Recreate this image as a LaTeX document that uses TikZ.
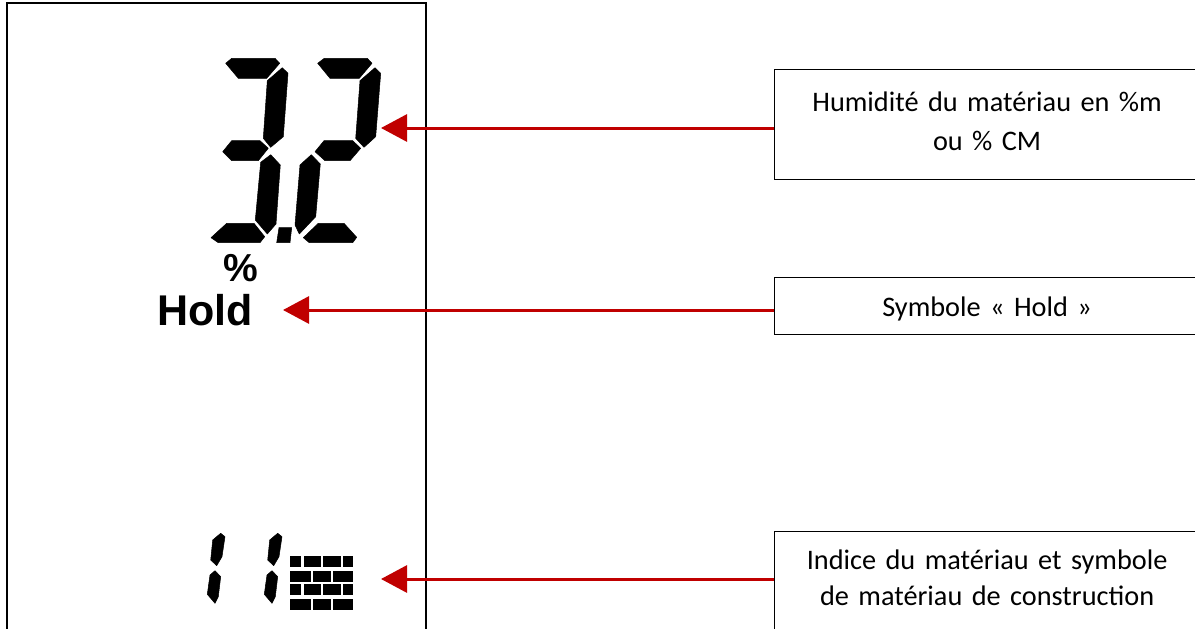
\documentclass[tikz,border=0pt]{standalone}
\usepackage{fontspec}
\setmainfont{Carlito}[WordSpace=0.75]
\newfontfamily\lcdfont{Liberation Sans}
\usepackage{xcolor}
\usetikzlibrary{arrows.meta}
\definecolor{arrowred}{HTML}{C00000}
\tikzset{
  lcdseg/.style={fill=black,draw=black,line width=0.5pt,line join=round},
  brick/.style={fill=black,draw=black,line width=0.6pt},
  infobox/.style={draw=black,line width=1.2pt,align=center,anchor=north west,inner sep=0pt,
    font=\fontsize{28.3}{39}\selectfont,text width=425pt},
  redarrow/.style={draw=arrowred,line width=3pt,-{Triangle[length=26pt,width=27pt]}}
}
\begin{document}
\begin{tikzpicture}[x=1pt,y=-1pt]
\useasboundingbox (0,0) rectangle (1195,629);
\begin{scope}
\clip (0,0) rectangle (1195,629);
\draw [line width=1.5pt] (7,640)-- (7,3)-- (426,3)-- (426,640);
% big digits
\fill [lcdseg] (225.7,63.3)-- (231.7,58.3)-- (275,58.3)-- (279.7,63.3)-- (266.7,78.3)-- (238.3,78.3)-- cycle;
\fill [lcdseg] (282.3,67.7)-- (288,73.3)-- (283.3,136.7)-- (270.7,147.3)-- (263.3,138.3)-- (267.3,80.7)-- cycle;
\fill [lcdseg] (222.7,151.7)-- (231.7,140.7)-- (260,140.7)-- (268.3,148.3)-- (258.3,160.7)-- (231.7,160.7)-- cycle;
\fill [lcdseg] (270.7,154.7)-- (280.3,165)-- (276,224)-- (267.3,234)-- (255.3,220)-- (260.7,162.3)-- cycle;
\fill [lcdseg] (211,237.7)-- (226.7,223.3)-- (254,223.3)-- (264.7,236.7)-- (260,242.7)-- (218.3,242.7)-- cycle;
\fill [lcdseg] (279,227.7)-- (291.7,227.7)-- (290,242.7)-- (276.7,242.7)-- cycle;
\fill [lcdseg] (317.7,63.3)-- (324.3,58.3)-- (367.3,58.3)-- (372,63.3)-- (359.3,78.3)-- (330,78.3)-- cycle;
\fill [lcdseg] (375,67.7)-- (380.7,73.3)-- (375.7,136.7)-- (364,147.3)-- (355.7,138.3)-- (360,80.7)-- cycle;
\fill [lcdseg] (315,151.7)-- (324,140.7)-- (352.7,140.7)-- (360.7,148.3)-- (350,160.7)-- (325,160.7)-- cycle;
\fill [lcdseg] (311.3,154.7)-- (320.3,164)-- (315.7,216.7)-- (299.3,234)-- (295,225)-- (300,165)-- cycle;
\fill [lcdseg] (303.3,237.7)-- (318.3,223.3)-- (344,223.3)-- (356.7,237.3)-- (352.7,242.7)-- (309.3,242.7)-- cycle;
% small digits
\foreach \dx in {0,57}{
  \fill [lcdseg,shift={(\dx,0)}] (220.7,533.3)-- (225,536.7)-- (222,556.7)-- (216.7,565.7)-- (210.7,560)-- (212.7,540)-- cycle;
  \fill [lcdseg,shift={(\dx,0)}] (215,570.7)-- (220.7,576.7)-- (218.3,596.7)-- (215,603.3)-- (207.3,594.3)-- (210,575)-- cycle;
}
% bricks
\foreach \rowy in {556.7,584.7}{
  \fill [brick] (290,\rowy) rectangle (300.7,\rowy+10);
  \fill [brick] (304,\rowy) rectangle (320,\rowy+10);
  \fill [brick] (323.3,\rowy) rectangle (340,\rowy+10);
  \fill [brick] (343.3,\rowy) rectangle (352.7,\rowy+10);
}
\foreach \rowy in {571,599}{
  \fill [brick] (290,\rowy) rectangle (310,\rowy+10);
  \fill [brick] (313.3,\rowy) rectangle (330,\rowy+10);
  \fill [brick] (333.3,\rowy) rectangle (352.7,\rowy+10);
}
\node (pct) at (241,268) {\lcdfont\bfseries\fontsize{39}{39}\selectfont \%};
\node (hold) at (205,310) {\lcdfont\bfseries\fontsize{43}{43}\selectfont Hold};
% boxes
\node [infobox,minimum height=110pt,text depth=46pt] (humbox) at (774,69) {Humidité du matériau en \%m\\ou \% CM};
\node [infobox,minimum height=57pt,text height=26pt] (holdbox) at (774,277) {Symbole « Hold »};
\node [infobox,minimum height=110pt,text depth=53pt] (indbox) at (774,531) {Indice du matériau et symbole\\[-3pt]de matériau de construction};
\coordinate (humtip) at (381,128);
\coordinate (holdtip) at (283,310);
\coordinate (indtip) at (381,579);
\draw [redarrow] (humbox.west |- humtip)-- (humtip);
\draw [redarrow] (holdbox.west |- holdtip)-- (holdtip);
\draw [redarrow] (indbox.west |- indtip)-- (indtip);
\end{scope}
\end{tikzpicture}
\end{document}
